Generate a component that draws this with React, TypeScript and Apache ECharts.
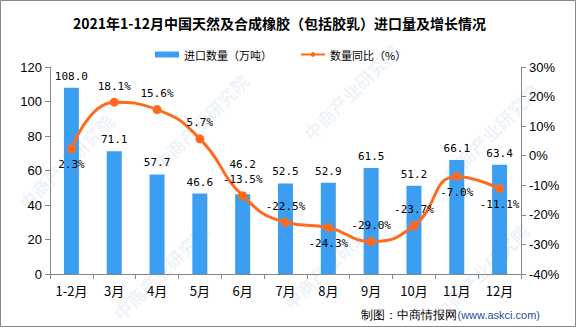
import React, { useEffect, useRef } from "react";
import * as echarts from "echarts";

const categories = ["1-2月", "3月", "4月", "5月", "6月", "7月", "8月", "9月", "10月", "11月", "12月"];
const importVolume = [108.0, 71.1, 57.7, 46.6, 46.2, 52.5, 52.9, 61.5, 51.2, 66.1, 63.4];
const yoyGrowth = [2.3, 18.1, 15.6, 5.7, -13.5, -22.5, -24.3, -29.0, -23.7, -7.0, -11.1];
const yoyLabelPos = ["bottom", "top", "top", "top", "top", "top", "bottom", "top", "top", "bottom", "bottom"];
const barLabelLift = [0, 0, 0, 0, 18, 0, 0, 0, 0, 0, 0];

const monoFont = "'DejaVu Sans Mono', monospace";

export default function App() {
  const ref = useRef<HTMLDivElement>(null);
  useEffect(() => {
    if (!ref.current) return;
    const chart = echarts.init(ref.current, undefined, { renderer: "svg" });
    const wm: any[] = [];
    const wmPos = [[15, 200], [150, 160], [300, 130], [440, 170], [110, 310], [280, 300], [430, 310]];
    wmPos.forEach(([x, y]) => {
      wm.push({
        type: "text",
        x,
        y,
        rotation: Math.PI / 4,
        silent: true,
        z: 0,
        style: { text: "中商产业研究院", fill: "rgba(150,180,210,0.16)", font: "bold 18px 'Noto Sans CJK SC'" },
      });
    });
    chart.setOption({
      animation: false,
      backgroundColor: "#fff",
      title: {
        text: "2021年1-12月中国天然及合成橡胶（包括胶乳）进口量及增长情况",
        left: 68,
        top: 11,
        textStyle: { fontSize: 14, fontWeight: "bold", color: "#000", fontFamily: "'Noto Sans CJK SC'" },
      },
      legend: {
        top: 44,
        left: 150,
        itemGap: 28,
        itemWidth: 24,
        itemHeight: 6,
        textStyle: { fontSize: 11, color: "#000", fontFamily: "'Noto Sans CJK SC'" },
        data: [
          { name: "进口数量（万吨）", icon: "rect" },
          { name: "数量同比（%）" },
        ],
      },
      grid: { left: 50, right: 55, top: 67, bottom: 53, containLabel: false },
      xAxis: {
        type: "category",
        data: categories,
        axisLine: { lineStyle: { color: "#888" } },
        axisTick: { show: true, alignWithLabel: false, lineStyle: { color: "#888" } },
        axisLabel: { color: "#000", fontSize: 13, margin: 10, fontFamily: "'Noto Sans CJK SC'" },
      },
      yAxis: [
        {
          type: "value",
          min: 0,
          max: 120,
          interval: 20,
          axisLine: { show: true, lineStyle: { color: "#888" } },
          axisTick: { show: true, lineStyle: { color: "#888" } },
          splitLine: { show: false },
          axisLabel: { color: "#000", fontSize: 13, fontFamily: "'Liberation Sans'" },
        },
        {
          type: "value",
          min: -40,
          max: 30,
          interval: 10,
          axisLine: { show: true, lineStyle: { color: "#888" } },
          axisTick: { show: true, lineStyle: { color: "#888" } },
          splitLine: { show: false },
          axisLabel: { color: "#000", fontSize: 13, formatter: "{value}%", fontFamily: "'Liberation Sans'" },
        },
      ],
      graphic: [
        ...wm,
        {
          type: "rect",
          shape: { x: 0.5, y: 0.5, width: 575, height: 326 },
          style: { fill: "none", stroke: "#888", lineWidth: 1 },
          silent: true,
        },
        {
          type: "text",
          right: 36,
          top: 309,
          style: {
            text: "{a|制图：中商情报网}{b|(www.askci.com)}",
            rich: {
              a: { fontSize: 12, fill: "#000", font: "12px 'Noto Sans CJK SC'" },
              b: { fontSize: 11, fill: "#1f4fa0", font: "11px 'Liberation Sans'" },
            },
          },
        },
      ],
      series: [
        {
          name: "进口数量（万吨）",
          type: "bar",
          data: importVolume.map((v, i) => ({
            value: v,
            label: { distance: 6 + barLabelLift[i] },
          })),
          barWidth: 15,
          itemStyle: { color: "#3c9ef0" },
          label: {
            show: true,
            position: "top",
            distance: 6,
            color: "#000",
            fontSize: 11,
            fontFamily: monoFont,
            formatter: (p: any) => Number(p.value).toFixed(1),
          },
          z: 2,
        },
        {
          name: "数量同比（%）",
          type: "line",
          yAxisIndex: 1,
          smooth: true,
          symbol: "circle",
          symbolSize: 9,
          lineStyle: { color: "#ff6a1f", width: 3 },
          itemStyle: { color: "#ff6a1f" },
          data: yoyGrowth.map((v, i) => ({
            value: v,
            label: { position: yoyLabelPos[i] as any },
          })),
          label: {
            show: true,
            color: "#000",
            fontSize: 11,
            distance: 6,
            fontFamily: monoFont,
            formatter: (p: any) => Number(p.value).toFixed(1) + "%",
          },
          z: 3,
        },
      ],
    });
    return () => chart.dispose();
  }, []);
  return <div ref={ref} style={{ width: 576, height: 327, position: "absolute", left: 0, top: 0 }} />;
}
